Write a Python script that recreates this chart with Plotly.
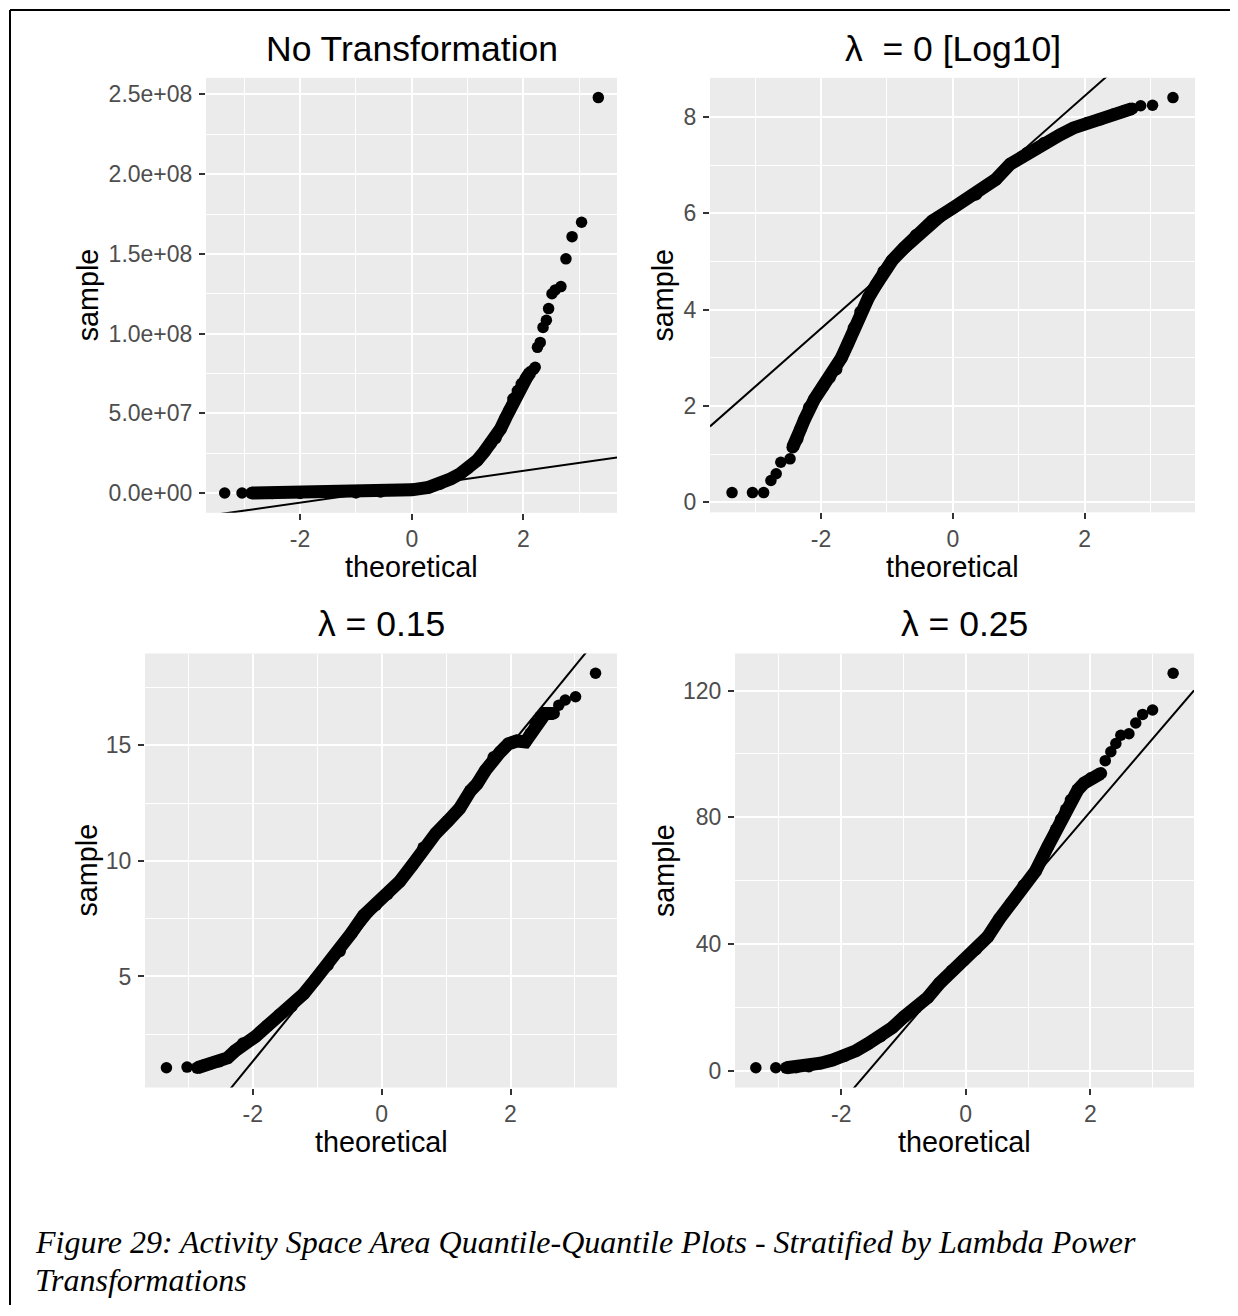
import plotly.graph_objects as go

# ------------------------------------------------------------------
# Data
# ------------------------------------------------------------------
panel_titles = ["No Transformation", "λ  = 0 [Log10]", "λ = 0.15", "λ = 0.25"]
x_title = "theoretical"
y_title = "sample"
caption_line1 = "Figure 29: Activity Space Area Quantile-Quantile Plots - Stratified by Lambda Power"
caption_line2 = "Transformations"

# Panel 1: No Transformation
p1_body_x = [-2.87, -2.5, -2.0, -1.5, -1.0, -0.56, 0.0, 0.3, 0.51, 0.7, 0.87, 1.0, 1.17, 1.3,
             1.41, 1.5, 1.59, 1.68, 1.75, 1.82, 1.9, 1.97, 2.05, 2.12]
p1_body_y = [0.0, 0.05e6, 0.1e6, 0.2e6, 0.4e6, 1.0e6, 2.0e6, 3.6e6, 5.9e6, 9.0e6, 12.2e6, 15.5e6,
             20.5e6, 26e6, 31e6, 34.5e6, 40.3e6, 47e6, 52e6, 59e6, 64e6, 68.4e6, 72e6, 75.7e6]
p1_tail_x = [-3.35, -3.04, 2.18, 2.21, 2.25, 2.30, 2.35, 2.41, 2.45, 2.51, 2.57, 2.67, 2.76, 2.87, 3.04, 3.34]
p1_tail_y = [0.0, 0.0, 77.5e6, 78.9e6, 91.4e6, 94.5e6, 103.9e6, 108.4e6, 115.7e6, 125e6, 127.4e6,
             129.5e6, 146.9e6, 160.8e6, 169.8e6, 248e6]
p1_line = [4.0e6, 5.0e6]  # intercept, slope
p1_yticks = [0, 5e7, 1e8, 1.5e8, 2e8, 2.5e8]
p1_yticktext = ["0.0e+00", "5.0e+07", "1.0e+08", "1.5e+08", "2.0e+08", "2.5e+08"]

# Panel 2: lambda = 0 (log10)
p2_body_x = [-2.43, -2.36, -2.31, -2.25, -2.18, -2.10, -1.97, -1.87, -1.77, -1.69, -1.59, -1.50,
             -1.40, -1.28, -1.16, -1.05, -0.92, -0.74, -0.56, -0.31, 0.0, 0.35, 0.65, 0.87, 1.13,
             1.38, 1.63, 1.83, 2.04, 2.24, 2.44, 2.6, 2.72]
p2_body_y = [1.14, 1.31, 1.52, 1.72, 1.97, 2.14, 2.41, 2.59, 2.76, 3.0, 3.30, 3.62,
             3.95, 4.25, 4.52, 4.79, 5.02, 5.28, 5.54, 5.84, 6.11, 6.39, 6.70, 7.02, 7.25,
             7.45, 7.63, 7.77, 7.87, 7.95, 8.05, 8.12, 8.17]
p2_tail_x = [-3.35, -3.04, -2.87, -2.76, -2.68, -2.61, -2.47, 2.85, 3.03, 3.34]
p2_tail_y = [0.2, 0.2, 0.2, 0.45, 0.59, 0.83, 0.90, 8.23, 8.24, 8.40]
p2_line = [6.02, 1.207]
p2_yticks = [0, 2, 4, 6, 8]

# Panel 3: lambda = 0.15
p3_body_x = [-2.86, -2.77, -2.64, -2.52, -2.39, -2.27, -2.15, -1.96, -1.77, -1.59, -1.40, -1.21,
             -1.03, -0.84, -0.65, -0.47, -0.28, -0.09, 0.09, 0.28, 0.47, 0.65, 0.84, 1.03, 1.21,
             1.38, 1.48, 1.61, 1.74, 1.84, 1.97, 2.10, 2.23, 2.31, 2.39, 2.47, 2.54, 2.67]
p3_body_y = [1.05, 1.14, 1.25, 1.33, 1.48, 1.79, 2.10, 2.40, 2.87, 3.33, 3.71, 4.25,
             4.87, 5.49, 6.10, 6.87, 7.64, 8.10, 8.57, 9.11, 9.80, 10.57, 11.19, 11.73, 12.27,
             13.04, 13.33, 13.91, 14.49, 14.71, 15.07, 15.19, 15.15, 15.51, 15.94, 16.24, 16.38, 16.38]
p3_tail_x = [-3.34, -3.02, 2.75, 2.85, 3.01, 3.32]
p3_tail_y = [1.05, 1.08, 16.74, 16.96, 17.1, 18.12]
p3_line = [8.17, 3.42]
p3_yticks = [5, 10, 15]

# Panel 4: lambda = 0.25
p4_body_x = [-2.88, -2.72, -2.52, -2.33, -2.14, -1.95, -1.76, -1.57, -1.37, -1.18, -0.99, -0.80,
             -0.61, -0.42, -0.22, -0.03, 0.16, 0.35, 0.54, 0.73, 0.93, 1.12, 1.32, 1.45, 1.53,
             1.61, 1.69, 1.80, 1.90, 2.01, 2.17]
p4_body_y = [0.9, 1.1, 1.35, 2.36, 3.37, 4.6, 6.3, 8.5, 10.8, 13.6, 17.0, 19.8,
             23.1, 27.6, 31.6, 34.9, 38.3, 42.2, 47.9, 52.9, 58.5, 63.0, 70.9, 76.1, 79.3,
             82.4, 85.5, 88.7, 90.8, 92.3, 93.9]
p4_tail_x = [-3.37, -3.05, 2.24, 2.33, 2.41, 2.49, 2.62, 2.73, 2.84, 3.0, 3.33]
p4_tail_y = [0.9, 0.9, 97.9, 100.7, 103.3, 105.9, 106.4, 109.8, 112.5, 113.9, 125.5]
p4_line = [35.8, 23.0]
p4_yticks = [0, 40, 80, 120]

x_ticks = [-2, 0, 2]
y_minor_steps = [2.5e7, 1, 2.5, 20]

# ------------------------------------------------------------------
# Layout / styling (page pixel positions; the page body has an 8px margin)
# ------------------------------------------------------------------
PAGE_W, PAGE_H = 1238, 1316
OFF = 8
FW, FH = PAGE_W - 2 * OFF, PAGE_H - 2 * OFF


def px(x):
    return (x - OFF) / FW


def py(y):
    return 1 - (y - OFF) / FH


panel_px = [(206, 617, 78, 514), (710, 1195, 78, 513.5), (145, 617, 655, 1090), (735, 1194, 655, 1090)]
ylab_x = [88, 663.5, 87, 663.5]
FONT = "Liberation Sans, Arial, sans-serif"

panels = [
    (p1_body_x, p1_body_y, p1_tail_x, p1_tail_y, p1_line, p1_yticks, p1_yticktext),
    (p2_body_x, p2_body_y, p2_tail_x, p2_tail_y, p2_line, p2_yticks, [str(v) for v in p2_yticks]),
    (p3_body_x, p3_body_y, p3_tail_x, p3_tail_y, p3_line, p3_yticks, [str(v) for v in p3_yticks]),
    (p4_body_x, p4_body_y, p4_tail_x, p4_tail_y, p4_line, p4_yticks, [str(v) for v in p4_yticks]),
]

fig = go.Figure()
layout = dict(
    width=FW, height=FH, margin=dict(l=0, r=0, t=0, b=0),
    paper_bgcolor="white", plot_bgcolor="#EBEBEB", showlegend=False,
    font=dict(family=FONT),
)
annotations = []

MS = 11.5
for i, (bx, by, tx, ty, line, yt, ytt) in enumerate(panels):
    k = "" if i == 0 else str(i + 1)
    xa, ya = "x" + k, "y" + k
    allx = bx + tx
    ally = by + ty
    xr = max(allx) - min(allx)
    yr = max(ally) - min(ally)
    xrange = [min(allx) - 0.05 * xr, max(allx) + 0.05 * xr]
    yrange = [min(ally) - 0.05 * yr, max(ally) + 0.05 * yr]

    b0, b1 = line
    fig.add_trace(go.Scatter(x=xrange, y=[b0 + b1 * xrange[0], b0 + b1 * xrange[1]],
                             mode="lines", line=dict(color="black", width=2),
                             xaxis=xa, yaxis=ya, hoverinfo="skip"))
    fig.add_trace(go.Scatter(x=bx, y=by, mode="lines+markers",
                             line=dict(color="black", width=MS + 1.5),
                             marker=dict(color="black", size=MS + 1),
                             xaxis=xa, yaxis=ya))
    fig.add_trace(go.Scatter(x=tx, y=ty, mode="markers",
                             marker=dict(color="black", size=MS),
                             xaxis=xa, yaxis=ya))

    x0, x1, y0, y1 = panel_px[i]
    common = dict(
        showgrid=True, gridcolor="white", gridwidth=2.2, zeroline=False, showline=False,
        ticks="outside", ticklen=6, tickwidth=1.6, tickcolor="#333333",
        tickfont=dict(size=23, color="#4D4D4D", family=FONT),
    )
    layout["xaxis" + k] = dict(
        common, domain=[px(x0), px(x1)], range=xrange, anchor=ya, ticklabelstandoff=0,
        tickmode="array", tickvals=x_ticks, ticktext=[str(v) for v in x_ticks],
        minor=dict(tickmode="linear", tick0=0, dtick=1, showgrid=True,
                   gridcolor="white", gridwidth=1.1, ticks=""),
    )
    layout["yaxis" + k] = dict(
        common, domain=[py(y1), py(y0)], range=yrange, anchor=xa, ticklabelstandoff=2,
        tickmode="array", tickvals=yt, ticktext=ytt,
        minor=dict(tickmode="linear", tick0=0, dtick=y_minor_steps[i], showgrid=True,
                   gridcolor="white", gridwidth=1.1, ticks=""),
    )

    cx = (x0 + x1) / 2
    cy = (y0 + y1) / 2
    title_y = 49.5 if i < 2 else 625.5
    annotations.append(dict(text=panel_titles[i], x=px(cx), y=py(title_y),
                            xref="paper", yref="paper", xanchor="center", yanchor="middle",
                            showarrow=False, font=dict(size=35.5, color="black", family=FONT)))
    annotations.append(dict(text=x_title, x=px(cx), y=py(y1 + 54.5),
                            xref="paper", yref="paper", xanchor="center", yanchor="middle",
                            showarrow=False, font=dict(size=28.75, color="black", family=FONT)))
    annotations.append(dict(text=y_title, x=px(ylab_x[i]), y=py(cy), textangle=-90,
                            xref="paper", yref="paper", xanchor="center", yanchor="middle",
                            showarrow=False, font=dict(size=28.75, color="black", family=FONT)))

CAP_FONT = dict(family="Liberation Serif, Times New Roman, serif", size=32, color="black")
annotations.append(dict(text="<i>" + caption_line1 + "</i>", x=px(33), y=py(1245),
                        xref="paper", yref="paper", xanchor="left", yanchor="middle",
                        showarrow=False, font=CAP_FONT))
annotations.append(dict(text="<i>" + caption_line2 + "</i>", x=px(33), y=py(1283),
                        xref="paper", yref="paper", xanchor="left", yanchor="middle",
                        showarrow=False, font=CAP_FONT))

layout["annotations"] = annotations
layout["shapes"] = [
    dict(type="line", xref="paper", yref="paper", x0=px(10), x1=px(10), y0=0, y1=py(10),
         line=dict(color="black", width=2)),
    dict(type="line", xref="paper", yref="paper", x0=px(10), x1=1, y0=py(10), y1=py(10),
         line=dict(color="black", width=2)),
]
fig.update_layout(**layout)
fig.write_html("out.html")
